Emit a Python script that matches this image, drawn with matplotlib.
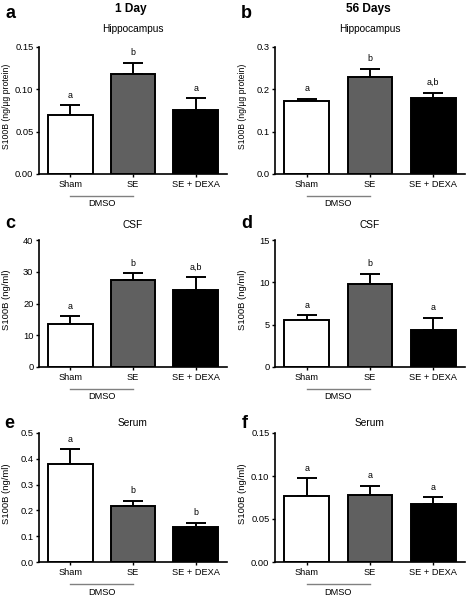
import matplotlib
matplotlib.use("Agg")
import matplotlib.pyplot as plt
from matplotlib.lines import Line2D

plt.rcParams['font.family'] = ['Liberation Sans', 'DejaVu Sans']

categories = ["Sham", "SE", "SE + DEXA"]
bar_colors = ["white", "#606060", "black"]

# panel a: 1 Day hippocampus
a_mean = [0.070, 0.118, 0.075]
a_err = [0.011, 0.0135, 0.0145]
a_lab = ["a", "b", "a"]
# panel b: 56 Days hippocampus
b_mean = [0.173, 0.228, 0.179]
b_err = [0.005, 0.020, 0.013]
b_lab = ["a", "b", "a,b"]
# panel c: 1 Day CSF
c_mean = [13.4, 27.4, 24.4]
c_err = [2.6, 2.1, 3.9]
c_lab = ["a", "b", "a,b"]
# panel d: 56 Days CSF
d_mean = [5.5, 9.8, 4.4]
d_err = [0.6, 1.2, 1.4]
d_lab = ["a", "b", "a"]
# panel e: 1 Day serum
e_mean = [0.380, 0.217, 0.136]
e_err = [0.057, 0.020, 0.017]
e_lab = ["a", "b", "b"]
# panel f: 56 Days serum
f_mean = [0.0770, 0.0780, 0.0680]
f_err = [0.0205, 0.0105, 0.0075]
f_lab = ["a", "a", "a"]

a_ticks = [0.00, 0.05, 0.10, 0.15]
b_ticks = [0.0, 0.1, 0.2, 0.3]
c_ticks = [0, 10, 20, 30, 40]
d_ticks = [0, 5, 10, 15]
e_ticks = [0.0, 0.1, 0.2, 0.3, 0.4, 0.5]
f_ticks = [0.00, 0.05, 0.10, 0.15]

W, H = 472, 597
fig = plt.figure(figsize=(W / 100, H / 100), dpi=100)


def px_axes(left, top, right, bottom):
    return fig.add_axes([left / W, 1 - bottom / H, (right - left) / W, (bottom - top) / H])


def panel(ax, mean, err, labs, ticks, fmt, ylabel, ylfs):
    x = list(range(len(categories)))
    ax.bar(x, mean, width=0.71, color=bar_colors, edgecolor="black", linewidth=1.4, zorder=2)
    ax.errorbar(x, mean, yerr=[[0] * len(err), err], fmt="none", ecolor="black",
                elinewidth=1.4, capsize=7, capthick=1.4, zorder=1)
    for xi, m, e, t in zip(x, mean, err, labs):
        ax.annotate(t, (xi, m + e), xytext=(0, 4), textcoords="offset points",
                    ha="center", va="bottom", fontsize=6.4)
    ax.set_xlim(-0.5, 2.5)
    ax.set_ylim(ticks[0], ticks[-1])
    ax.set_yticks(ticks)
    ax.set_yticklabels([fmt.format(t) for t in ticks], fontsize=6.7)
    ax.set_xticks(x)
    ax.set_xticklabels(categories, fontsize=6.7)
    ax.tick_params(axis="both", length=2.5, width=1.0, pad=1.5)
    for s in ["top", "right"]:
        ax.spines[s].set_visible(False)
    for s in ["left", "bottom"]:
        ax.spines[s].set_linewidth(1.2)
    ax.set_ylabel(ylabel, fontsize=ylfs)
    ax.yaxis.set_label_coords(-0.148, 0.53)
    ax.patch.set_alpha(0)
    # DMSO bracket
    ax.add_line(Line2D([0, 1], [-0.17, -0.17], transform=ax.get_xaxis_transform(),
                       color="#808080", linewidth=1.0, clip_on=False))
    ax.text(0.5, -0.2, "DMSO", transform=ax.get_xaxis_transform(), ha="center", va="top",
            fontsize=6.7)


cols = [(39, 227), (275, 465)]
rows = [(47, 174), (240, 367), (433, 562)]

ax_a = px_axes(cols[0][0], rows[0][0], cols[0][1], rows[0][1])
ax_b = px_axes(cols[1][0], rows[0][0], cols[1][1], rows[0][1])
ax_c = px_axes(cols[0][0], rows[1][0], cols[0][1], rows[1][1])
ax_d = px_axes(cols[1][0], rows[1][0], cols[1][1], rows[1][1])
ax_e = px_axes(cols[0][0], rows[2][0], cols[0][1], rows[2][1])
ax_f = px_axes(cols[1][0], rows[2][0], cols[1][1], rows[2][1])

panel(ax_a, a_mean, a_err, a_lab, a_ticks, "{:.2f}", "S100B (ng/µg protein)", 6.2)
panel(ax_b, b_mean, b_err, b_lab, b_ticks, "{:.1f}", "S100B (ng/µg protein)", 6.2)
panel(ax_c, c_mean, c_err, c_lab, c_ticks, "{:.0f}", "S100B (ng/ml)", 6.8)
panel(ax_d, d_mean, d_err, d_lab, d_ticks, "{:.0f}", "S100B (ng/ml)", 6.8)
panel(ax_e, e_mean, e_err, e_lab, e_ticks, "{:.1f}", "S100B (ng/ml)", 6.8)
panel(ax_f, f_mean, f_err, f_lab, f_ticks, "{:.2f}", "S100B (ng/ml)", 6.8)


def ftext(x, y, s, **kw):
    fig.text(x / W, 1 - y / H, s, ha="center", va="center", **kw)


ftext(131, 9, "1 Day", fontsize=8.6, fontweight="bold")
ftext(368, 9, "56 Days", fontsize=8.6, fontweight="bold")
ftext(133, 29, "Hippocampus", fontsize=7.3)
ftext(370, 29, "Hippocampus", fontsize=7.3)
ftext(133, 225, "CSF", fontsize=7.3)
ftext(370, 225, "CSF", fontsize=7.3)
ftext(133, 423, "Serum", fontsize=7.3)
ftext(370, 423, "Serum", fontsize=7.3)

for x, y, s in [(10, 13, "a"), (246, 13, "b"), (10, 223, "c"), (247, 223, "d"),
                (9, 423, "e"), (245, 423, "f")]:
    ftext(x, y, s, fontsize=13, fontweight="bold")

fig.savefig("out.png", dpi=100)
